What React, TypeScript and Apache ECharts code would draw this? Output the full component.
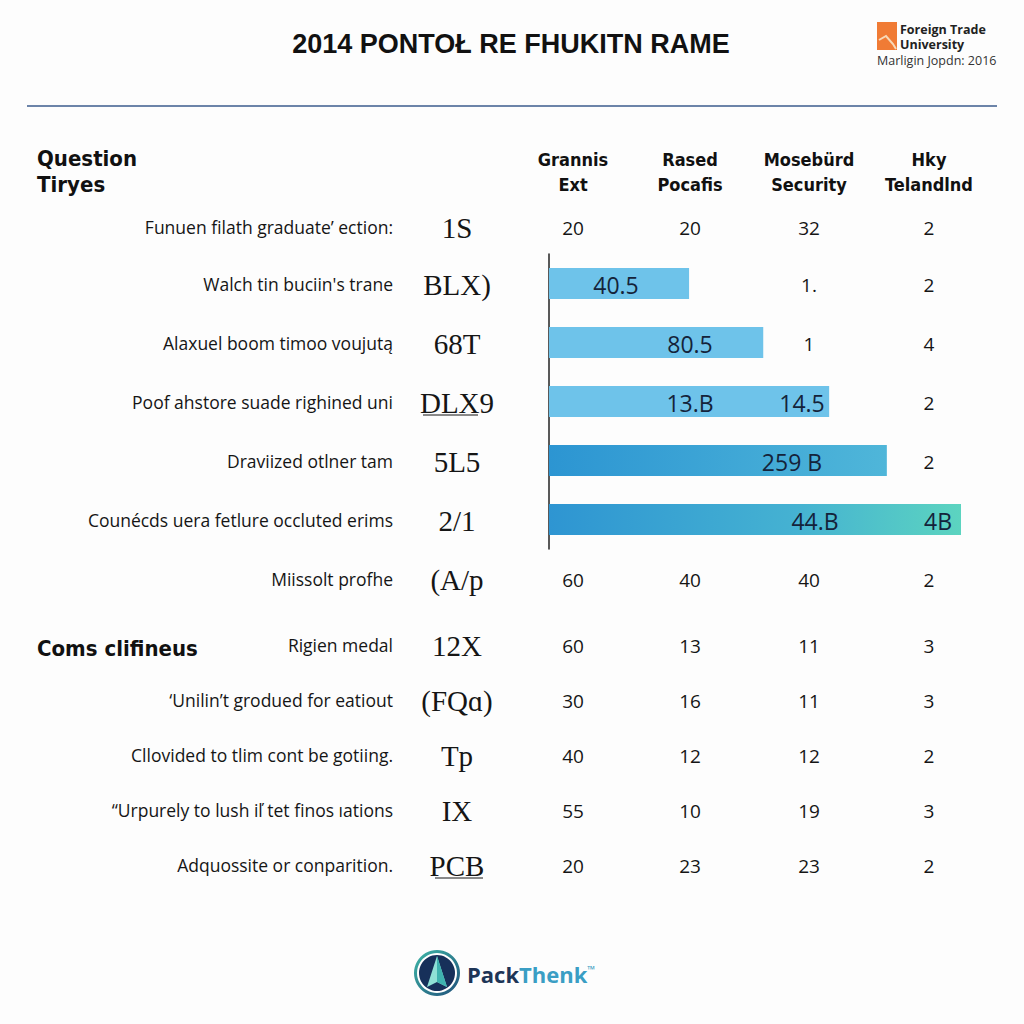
import React, { useEffect, useRef } from "react";
import * as echarts from "echarts";

const title = "2014 PONTOŁ RE FHUKITN RAME";
const logoName = ["Foreign Trade", "University"];
const logoSub = "Marligin Jopdn: 2016";
const headerLeft = ["Question", "Tiryes"];
const columnHeaders = [
  ["Grannis", "Ext"],
  ["Rased", "Pocafis"],
  ["Mosebürd", "Security"],
  ["Hky", "Telandlnd"],
];
const sectionLabel = "Coms clifineus";

const rowLabels = [
  "Funuen filath graduate’ ection:",
  "Walch tin buciin's trane",
  "Alaxuel boom timoo voujutą",
  "Poof ahstore suade righined uni",
  "Draviized otlner tam",
  "Counécds uera fetlure occluted erims",
  "Miissolt profhe",
  "Rigien medal",
  "‘Unilin’t grodued for eatiout",
  "Cllovided to tlim cont be gotiing.",
  "“Urpurely to lush iľ tet finos ıations",
  "Adquossite or conparition.",
];
const rowCodes = ["1S", "BLX)", "68T", "DLX9", "5L5", "2/1", "(A/p", "12X", "(FQɑ)", "Tp", "IX", "PCB"];
const col1 = ["20", "40.5", "", "", "", "", "60", "60", "30", "40", "55", "20"];
const col2 = ["20", "", "80.5", "13.B", "", "", "40", "13", "16", "12", "10", "23"];
const col3 = ["32", "1.", "1", "14.5", "259 B", "44.B", "40", "11", "11", "12", "19", "23"];
const col4 = ["2", "2", "4", "2", "2", "4B", "2", "3", "3", "2", "3", "2"];

const barCategories = ["Walch", "Alaxuel", "Poof", "Draviized", "Counécds"];
const barValues = [34, 52, 68, 82, 100];

export default function App() {
  const ref = useRef<HTMLDivElement>(null);
  useEffect(() => {
    const chart = echarts.init(ref.current!, null, { renderer: "svg" });
    const rowY = [227, 284, 343, 402, 461, 520, 579, 645, 700, 755, 810, 865];
    const colX = [573, 690, 809, 929];
    const shift: Record<string, number> = { "1-0": 43, "3-2": -7, "4-2": -17, "5-2": 6, "5-3": 9 };
    const gridLeft = 549;
    const gridWidth = 412;
    const narrow = "'Liberation Sans Narrow', 'DejaVu Sans Condensed', 'Open Sans', sans-serif";
    const sans = "'Open Sans', 'Lato', sans-serif";
    const serif = "'Liberation Serif', 'DejaVu Serif', serif";
    const g: any[] = [];

    g.push({
      type: "text", x: 511, y: 44,
      style: { text: title, font: "bold 27px 'Liberation Sans', Arial, sans-serif", fill: "#111", textAlign: "center", textVerticalAlign: "middle" },
    });
    g.push({ type: "line", shape: { x1: 27, y1: 106, x2: 997, y2: 106 }, style: { stroke: "#3b5b8c", lineWidth: 1.5 } });

    // top-right logo
    g.push({ type: "rect", shape: { x: 877, y: 22, width: 20, height: 28 }, style: { fill: "#f07b35" } });
    g.push({ type: "polyline", shape: { points: [[879, 40], [886, 36], [893, 44], [896, 49]] }, style: { stroke: "#f7d9b8", lineWidth: 2, fill: "none" } });
    g.push({
      type: "text", x: 900, y: 22,
      style: { text: logoName.join("\n"), font: "bold 12.5px 'Open Sans', sans-serif", lineHeight: 15, fill: "#222", textVerticalAlign: "top" },
    });
    g.push({ type: "text", x: 877, y: 60, style: { text: logoSub, font: "12.5px 'Open Sans', sans-serif", fill: "#333", textVerticalAlign: "middle" } });

    // headers
    headerLeft.forEach((t, i) =>
      g.push({ type: "text", x: 37, y: 158 + i * 26, style: { text: t, font: `bold 22px ${narrow}`, fill: "#111", textVerticalAlign: "middle" } })
    );
    columnHeaders.forEach((pair, c) =>
      pair.forEach((t, i) =>
        g.push({ type: "text", x: colX[c], y: 159 + i * 25, style: { text: t, font: `600 18px ${narrow}`, fill: "#111", textAlign: "center", textVerticalAlign: "middle" } })
      )
    );
    g.push({ type: "text", x: 37, y: 648, style: { text: sectionLabel, font: `bold 22px ${narrow}`, fill: "#111", textVerticalAlign: "middle" } });

    const cols = [col1, col2, col3, col4];
    rowLabels.forEach((lab, r) => {
      const y = rowY[r];
      g.push({ type: "text", x: 393, y, style: { text: lab, font: `17.5px ${sans}`, fill: "#151515", textAlign: "right", textVerticalAlign: "middle" } });
      g.push({ type: "text", x: 457, y: y + 1, style: { text: rowCodes[r], font: `29px ${serif}`, fill: "#151515", textAlign: "center", textVerticalAlign: "middle" } });
      cols.forEach((col, c) => {
        if (!col[r]) return;
        const x = colX[c] + (shift[`${r}-${c}`] || 0);
        const bi = r - 1;
        const inBar = bi >= 0 && bi < barValues.length && x < gridLeft + (barValues[bi] / 100) * gridWidth;
        g.push({
          type: "text", x, y: y + 1, z: 10,
          style: { text: col[r], font: `${inBar ? 23 : 19}px ${sans}`, fill: inBar ? "#14233a" : "#151515", textAlign: "center", textVerticalAlign: "middle" },
        });
      });
    });
    // underlines for codes
    g.push({ type: "line", shape: { x1: 423, y1: 415, x2: 478, y2: 415 }, style: { stroke: "#151515", lineWidth: 1 } });
    g.push({ type: "line", shape: { x1: 435, y1: 878, x2: 483, y2: 878 }, style: { stroke: "#151515", lineWidth: 1 } });

    // bottom logo
    g.push({ type: "circle", shape: { cx: 437, cy: 973, r: 23 }, style: { fill: new echarts.graphic.LinearGradient(0, 0, 1, 1, [{ offset: 0, color: "#3fb8a8" }, { offset: 1, color: "#1f4f7a" }]) } });
    g.push({ type: "circle", shape: { cx: 437, cy: 973, r: 20 }, style: { fill: "#ffffff" } });
    g.push({ type: "circle", shape: { cx: 437, cy: 973, r: 18 }, style: { fill: "#17305a" } });
    g.push({ type: "polygon", shape: { points: [[437, 956], [427, 987], [437, 982], [447, 987]] }, style: { fill: "#8fe0d6" } });
    g.push({ type: "polygon", shape: { points: [[437, 956], [437, 982], [447, 987]] }, style: { fill: "#3fb3b0" } });
    g.push({
      type: "text", x: 467, y: 974,
      style: {
        text: "{a|Pack}{b|Thenk}{c|™}",
        textVerticalAlign: "middle",
        rich: {
          a: { font: "bold 22px 'Open Sans', sans-serif", fill: "#1d3557" },
          b: { font: "bold 22px 'Open Sans', sans-serif", fill: "#3a9ec4" },
          c: { font: "bold 10px 'Open Sans', sans-serif", fill: "#3a9ec4", padding: [0, 0, 10, 0] },
        },
      },
    });

    const barColors = [
      "#6ec3ea",
      "#6ec3ea",
      "#6ec3ea",
      new echarts.graphic.LinearGradient(0, 0, 1, 0, [{ offset: 0, color: "#2c95d2" }, { offset: 1, color: "#4fb6d9" }]),
      new echarts.graphic.LinearGradient(0, 0, 1, 0, [{ offset: 0, color: "#2e95d2" }, { offset: 0.6, color: "#45b2d2" }, { offset: 1, color: "#5cd4c0" }]),
    ];

    chart.setOption({
      animation: false,
      backgroundColor: "#fdfdfd",
      grid: { left: gridLeft, top: 254, width: gridWidth, height: 295 },
      xAxis: { type: "value", min: 0, max: 100, show: false },
      yAxis: {
        type: "category",
        data: barCategories,
        inverse: true,
        axisLine: { show: true, lineStyle: { color: "#222", width: 1.5 } },
        axisTick: { show: false },
        axisLabel: { show: false },
      },
      series: [
        {
          type: "bar",
          barWidth: 31,
          data: barValues.map((v, i) => ({ value: v, itemStyle: { color: barColors[i] } })),
        },
      ],
      graphic: g,
    });
    return () => chart.dispose();
  }, []);
  return <div ref={ref} style={{ position: "fixed", left: 0, top: 0, width: 1024, height: 1024 }} />;
}
